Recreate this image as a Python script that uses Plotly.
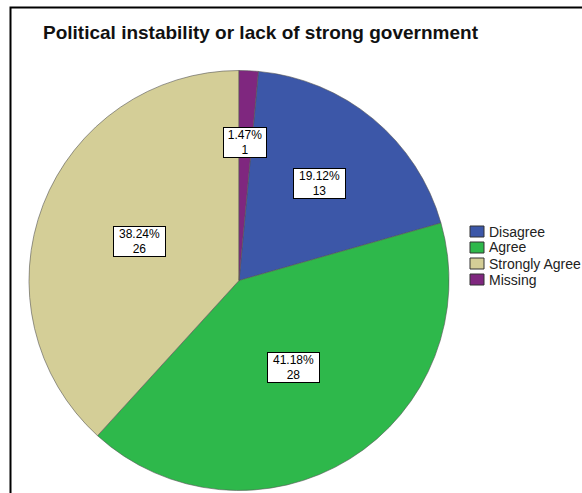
import math
import plotly.graph_objects as go

# Survey responses
categories = ["Disagree", "Agree", "Strongly Agree", "Missing"]
counts = [13, 28, 26, 1]
colors = ["#3C57A8", "#2EB84B", "#D4CE97", "#7F277F"]
chart_title = "Political instability or lack of strong government"

W, H = 582, 493
cx, cy, R = 239, 280.5, 210          # pie centre / radius in px
label_r = [0.60, 0.49, 0.51, 0.66]   # radial placement of the value boxes

total = sum(counts)
shares = [c / total for c in counts]
# the last slice ends exactly at 12 o'clock, so the first one starts after it
rotation = shares[-1] * 360


def px(x):
    return x / W


def py(y):
    return 1 - y / H


fig = go.Figure(
    go.Pie(
        labels=categories,
        values=counts,
        sort=False,
        direction="clockwise",
        rotation=rotation,
        marker=dict(colors=colors, line=dict(color="#555555", width=0.6)),
        textinfo="none",
        hoverinfo="label+value+percent",
        showlegend=False,
        domain=dict(x=[px(cx - R), px(cx + R)], y=[py(cy + R), py(cy - R)]),
    )
)

annotations = []
shapes = []

# value boxes: percentage and count at the middle of each slice
cum = 0.0
for i, (cat, c, s) in enumerate(zip(categories, counts, shares)):
    mid = math.radians(rotation + 360 * (cum + s / 2))
    cum += s
    r = R * label_r[i]
    x = cx + r * math.sin(mid)
    y = cy - r * math.cos(mid)
    pct = f"{s * 100:.2f}%"
    annotations.append(dict(
        x=px(x), y=py(y), xref="paper", yref="paper",
        text=f"{pct}<br>{c}", showarrow=False,
        font=dict(family="Arial, Liberation Sans", size=12, color="black"),
        bgcolor="white", bordercolor="black", borderwidth=1, borderpad=0,
        width=9 * len(pct) - 3, height=29,
        xanchor="center", yanchor="middle",
    ))

# legend
for i, (cat, col) in enumerate(zip(categories, colors)):
    y0 = 226 + 16 * i
    shapes.append(dict(
        type="rect", xref="paper", yref="paper",
        x0=px(470), x1=px(484), y0=py(y0), y1=py(y0 + 11),
        fillcolor=col, line=dict(color="#333333", width=1),
    ))
    annotations.append(dict(
        x=px(487), y=py(y0 + 5.5), xref="paper", yref="paper",
        text=cat, showarrow=False, xanchor="left", yanchor="middle",
        font=dict(family="Arial, Liberation Sans", size=14, color="#222222"),
    ))

# title
annotations.append(dict(
    x=px(261), y=py(33), xref="paper", yref="paper",
    text=f"<b>{chart_title}</b>", showarrow=False,
    xanchor="center", yanchor="middle",
    font=dict(family="Arial, Liberation Sans", size=19, color="#111111"),
))

# chart frame
shapes.append(dict(
    type="rect", xref="paper", yref="paper",
    x0=px(10.5), x1=px(640), y0=py(540), y1=py(7.5),
    line=dict(color="black", width=2), fillcolor="rgba(0,0,0,0)",
    layer="above",
))

fig.update_layout(
    width=W, height=H,
    margin=dict(l=0, r=0, t=0, b=0),
    paper_bgcolor="white", plot_bgcolor="white",
    annotations=annotations, shapes=shapes,
)

fig.write_html("out.html")
